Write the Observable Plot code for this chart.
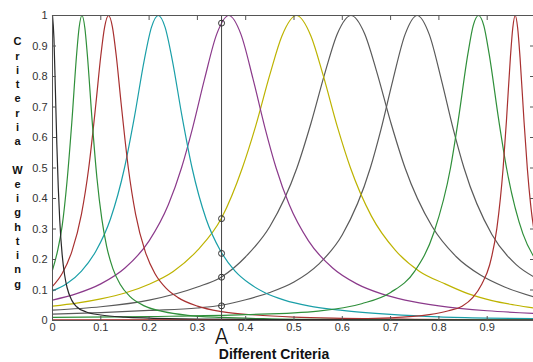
<!DOCTYPE html>
<html><head><meta charset="utf-8">
<script src="https://cdn.jsdelivr.net/npm/d3@7"></script>
<script src="https://cdn.jsdelivr.net/npm/@observablehq/plot@0.6"></script>
<style>html,body{margin:0;padding:0;background:#fff;overflow:hidden}</style>
</head><body><div id="chart"></div>
<script>
const xTicks = [0, 0.1, 0.2, 0.3, 0.4, 0.5, 0.6, 0.7, 0.8, 0.9, 1];
const xTickLabels = [0, 0.1, 0.2, 0.3, 0.4, 0.5, 0.6, 0.7, 0.8, 0.9];
const yTicks = [0, 0.1, 0.2, 0.3, 0.4, 0.5, 0.6, 0.7, 0.8, 0.9, 1];
const xLabel = "Different Criteria";
const yLabel = "C\nr\ni\nt\ne\nr\ni\na\n\nW\ne\ni\ng\nh\nt\ni\nn\ng";
const markerLabel = "A";
const markerX = [0.35];
const markerCircles = [0.975, 0.334, 0.22, 0.142, 0.048];

const curveBlack = [[0,1],[0.003,0.925],[0.006,0.754],[0.009,0.576],[0.012,0.434],[0.015,0.329],[0.02,0.216],[0.025,0.15],[0.03,0.109],[0.04,0.066],[0.05,0.045],[0.07,0.028],[0.1,0.018],[0.15,0.011],[0.2,0.008],[0.3,0.005],[0.5,0.003],[0.75,0.002],[1,0.001]];
const curveGreen1 = [[0,0.165],[0.01,0.225],[0.02,0.31],[0.03,0.455],[0.04,0.65],[0.05,0.874],[0.055,0.959],[0.061,1],[0.067,0.959],[0.072,0.874],[0.082,0.656],[0.092,0.467],[0.102,0.334],[0.112,0.244],[0.125,0.17],[0.14,0.119],[0.16,0.079],[0.19,0.048],[0.23,0.029],[0.28,0.017],[0.35,0.01],[0.45,0.0055],[0.6,0.003],[0.8,0.0015],[1,0.001]];
const curveRed1 = [[0,0.112],[0.02,0.154],[0.04,0.226],[0.06,0.349],[0.075,0.5],[0.09,0.713],[0.1,0.868],[0.108,0.963],[0.116,1],[0.124,0.963],[0.132,0.868],[0.142,0.713],[0.157,0.5],[0.172,0.349],[0.192,0.226],[0.212,0.154],[0.235,0.106],[0.26,0.075],[0.3,0.047],[0.35,0.029],[0.42,0.018],[0.5,0.011],[0.6,0.007],[0.75,0.004],[1,0.002]];
const curveCyan = [[0,0.097],[0.03,0.121],[0.06,0.162],[0.09,0.228],[0.12,0.333],[0.149,0.5],[0.17,0.671],[0.19,0.854],[0.205,0.962],[0.219,1],[0.233,0.962],[0.248,0.854],[0.268,0.671],[0.289,0.5],[0.318,0.333],[0.348,0.228],[0.378,0.162],[0.408,0.121],[0.44,0.091],[0.48,0.067],[0.53,0.048],[0.6,0.033],[0.7,0.02],[0.8,0.012],[0.9,0.008],[1,0.006]];
const curvePurple = [[0,0.067],[0.05,0.088],[0.1,0.12],[0.15,0.172],[0.2,0.261],[0.24,0.38],[0.267,0.5],[0.29,0.631],[0.315,0.793],[0.34,0.939],[0.365,1],[0.39,0.939],[0.415,0.793],[0.44,0.631],[0.463,0.5],[0.49,0.38],[0.53,0.261],[0.58,0.172],[0.63,0.12],[0.68,0.088],[0.73,0.067],[0.8,0.048],[0.9,0.032],[1,0.023]];
const curveYellow = [[0,0.047],[0.05,0.057],[0.1,0.071],[0.15,0.09],[0.2,0.119],[0.25,0.161],[0.3,0.23],[0.35,0.336],[0.393,0.5],[0.42,0.634],[0.45,0.806],[0.475,0.933],[0.505,1],[0.535,0.933],[0.56,0.806],[0.59,0.634],[0.617,0.5],[0.66,0.343],[0.71,0.23],[0.76,0.161],[0.81,0.122],[0.86,0.088],[0.91,0.065],[0.96,0.05],[1,0.04]];
const curveGray1 = [[0,0.034],[0.1,0.045],[0.2,0.067],[0.3,0.11],[0.35,0.143],[0.4,0.209],[0.45,0.308],[0.506,0.5],[0.535,0.646],[0.565,0.817],[0.59,0.941],[0.618,1],[0.646,0.941],[0.671,0.817],[0.701,0.646],[0.73,0.5],[0.786,0.308],[0.836,0.209],[0.886,0.149],[0.936,0.11],[1,0.076]];
const curveGray2 = [[0,0.021],[0.1,0.026],[0.2,0.033],[0.3,0.041],[0.35,0.05],[0.4,0.068],[0.45,0.092],[0.5,0.126],[0.55,0.183],[0.6,0.281],[0.658,0.5],[0.68,0.626],[0.705,0.79],[0.73,0.938],[0.755,1],[0.78,0.938],[0.805,0.79],[0.83,0.626],[0.852,0.5],[0.91,0.281],[0.96,0.183],[1,0.14]];
const curveGreen2 = [[0,0.01],[0.2,0.013],[0.4,0.019],[0.55,0.031],[0.64,0.055],[0.7,0.092],[0.75,0.162],[0.79,0.29],[0.824,0.5],[0.84,0.656],[0.86,0.874],[0.871,0.967],[0.882,1],[0.893,0.967],[0.904,0.874],[0.924,0.656],[0.94,0.5],[0.974,0.284],[1,0.2]];
const curveRed2 = [[0,0.002],[0.5,0.003],[0.7,0.009],[0.78,0.019],[0.82,0.032],[0.848,0.047],[0.87,0.075],[0.889,0.12],[0.905,0.182],[0.92,0.302],[0.933,0.5],[0.94,0.659],[0.948,0.862],[0.953,0.96],[0.958,1],[0.963,0.96],[0.968,0.862],[0.976,0.659],[0.983,0.5],[0.99,0.379],[1,0.262]];

const series = [
  {data: curveGray2, color: "#5a5a5a"},
  {data: curveGray1, color: "#5a5a5a"},
  {data: curveYellow, color: "#bdb300"},
  {data: curvePurple, color: "#8b3a8b"},
  {data: curveCyan, color: "#1a9fa8"},
  {data: curveRed1, color: "#a83030"},
  {data: curveGreen1, color: "#2f8f3a"},
  {data: curveGreen2, color: "#2f8f3a"},
  {data: curveRed2, color: "#a83030"},
  {data: curveBlack, color: "#2a2a2a"}
];

const fmt = d => String(d);
const circles = markerCircles.map(y => ({x: markerX[0], y}));

const plot = Plot.plot({
  width: 533,
  height: 362,
  marginLeft: 52,
  marginTop: 15,
  marginBottom: 42,
  marginRight: 0,
  x: {domain: [0, 1], range: [52, 535]},
  y: {domain: [0, 1], range: [320, 15]},
  style: {fontFamily: "'Liberation Sans', Arial, sans-serif", fontSize: "11px", background: "#fff", color: "#333", overflow: "visible"},
  marks: [
    ...series.map(s => Plot.line(s.data, {x: d => d[0], y: d => d[1], stroke: s.color, strokeWidth: 1.2, curve: "monotone-x"})),
    Plot.ruleX(markerX, {x: d => d, y1: 0, y2: 1, stroke: "#444", strokeWidth: 1}),
    Plot.dot(circles, {x: "x", y: "y", r: 3, stroke: "#333", fill: "none", strokeWidth: 1}),
    Plot.frame({stroke: "#555"}),
    Plot.axisY(yTicks, {anchor: "left", tickSize: 0, tickPadding: 5, tickFormat: fmt, label: null}),
    Plot.axisY(yTicks, {anchor: "left", tickSize: 4, dx: 4, tickFormat: () => "", label: null, stroke: "#555"}),
    Plot.axisY(yTicks, {anchor: "right", tickSize: 4, dx: -4, tickFormat: () => "", label: null, stroke: "#555"}),
    Plot.axisX(xTickLabels, {anchor: "bottom", tickSize: 0, tickPadding: 3, tickFormat: fmt, label: null}),
    Plot.axisX(xTicks, {anchor: "bottom", tickSize: 4, dy: -4, tickFormat: () => "", label: null, stroke: "#555"}),
    Plot.axisX(xTicks, {anchor: "top", tickSize: 4, dy: 4, tickFormat: () => "", label: null, stroke: "#555"}),
    Plot.text(markerX, {x: d => d, y: 0, text: () => markerLabel, dy: 17, fontSize: 21, fontFamily: "Inter, sans-serif", fontWeight: 300, fill: "#111"}),
    Plot.text([xLabel], {frameAnchor: "bottom", text: d => d, lineAnchor: "middle", dx: -19, dy: 34, fontSize: 14, fontWeight: "bold", fill: "#111"}),
    Plot.text([yLabel], {frameAnchor: "left", text: d => d, textAnchor: "middle", lineAnchor: "middle", lineHeight: 1.295, dx: -35, dy: -6, fontSize: 11, fontWeight: "bold", fill: "#111"})
  ]
});
document.getElementById("chart").appendChild(plot);
</script>
</body></html>
